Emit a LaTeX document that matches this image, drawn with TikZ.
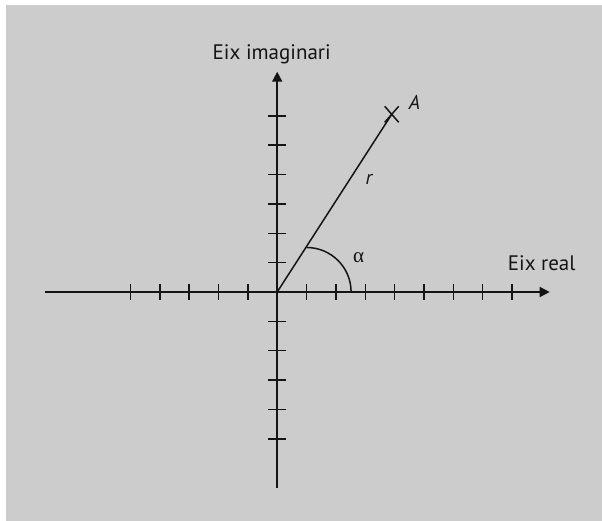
\documentclass[tikz,border=0pt]{standalone}
\usepackage{fontspec}
\setmainfont{PT Sans}
\newfontfamily\greekfont{Liberation Serif}
\usetikzlibrary{arrows.meta,calc}
\definecolor{bggray}{RGB}{204,204,204}
\definecolor{inkc}{RGB}{20,20,20}
\begin{document}
\begin{tikzpicture}[x=1pt,y=-1pt,
  axis/.style={draw=inkc,line width=1.6pt,-{Triangle[length=10pt,width=10pt]}},
  tickline/.style={draw=inkc,line width=1.5pt},
  ray/.style={draw=inkc,line width=1.5pt},
  lbl/.style={inner sep=0pt,anchor=base,text=inkc,font=\fontsize{21}{24}\selectfont},
  ilbl/.style={inner sep=0pt,anchor=base,text=inkc,font=\fontsize{20}{24}\selectfont\itshape}]
\useasboundingbox (0,0) rectangle (602,521);
\fill[white] (0,0) rectangle (602,521);
\fill[bggray] (6,5) rectangle (602,521);
\coordinate (O) at (277.2,292);
\coordinate (xl) at (44.5,292);
\coordinate (xr) at (549.7,292);
\coordinate (yb) at (277.2,488);
\coordinate (yt) at (277.2,71.7);
\draw[axis] (xl) -- (xr);
\draw[axis] (yb) -- (yt);
\foreach \k in {-5,-4,-3,-2,-1,1,2,3,4,5,6,7,8}
  \draw[tickline] ($(O)+(\k*29.35,-8.4)$) -- ($(O)+(\k*29.35,8.4)$);
\foreach \k in {-6,-5,-4,-3,-2,-1,1,2,3,4,5}
  \draw[tickline] ($(O)+(-9,\k*29.35)$) -- ($(O)+(9,\k*29.35)$);
\coordinate (A) at (391.7,114.3);
\draw[ray] (O) -- (A);
\draw[ray] ($(A)+(-7,-8)$) -- ($(A)+(7,8)$);
\draw[ray] ($(A)+(-7,8)$) -- ($(A)+(7,-8)$);
\coordinate (c1) at (306.6,292);
\draw[ray] ($(c1)+(0,-44.5)$) arc[start angle=-90,end angle=0,radius=44.5];
\node[lbl] (ylab) at (271.7,59.3) {Eix imaginari};
\node[lbl] (xlab) at (541.7,271) {Eix real};
\node[ilbl] (alab) at (414.5,109.3) {A};
\node[ilbl] (rlab) at (368.8,184.3) {r};
\node[inner sep=0pt,anchor=base,text=inkc,font=\fontsize{21}{24}\selectfont\greekfont] (alpha) at (358.6,262.7) {α};
\end{tikzpicture}
\end{document}
